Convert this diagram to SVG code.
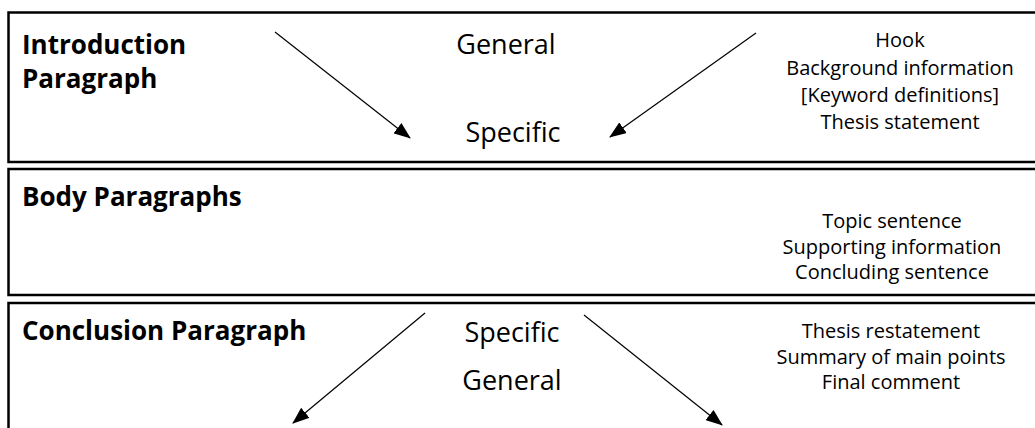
<svg xmlns="http://www.w3.org/2000/svg" width="1035" height="428" viewBox="0 0 1035 428">
<style>
.box{fill:#fff;stroke:#000;stroke-width:2.5}
.t{font-family:"Open Sans","Liberation Sans",sans-serif;fill:#000}
.h{font-size:26px;font-weight:bold}
.m{font-size:27px;text-anchor:middle}
.s{font-size:20px;text-anchor:middle}
.c{stroke:#000;stroke-width:1.2;fill:none;marker-end:url(#ah)}
</style>
<defs>
<marker id="ah" markerWidth="17" markerHeight="13" refX="16" refY="6.5" orient="auto" markerUnits="userSpaceOnUse">
<path d="M0,0 L17,6.5 L0,13 Z" fill="#000"/>
</marker>
</defs>
<rect width="1035" height="428" fill="#fff"/>
<g id="intro">
<rect class="box" x="8.5" y="12.5" width="1040" height="149.5"/>
<text class="t h" x="22" y="54">Introduction</text>
<text class="t h" x="22" y="88">Paragraph</text>
<text class="t m" x="506" y="54">General</text>
<text class="t m" x="513" y="142">Specific</text>
<text class="t s" x="900" y="47">Hook</text>
<text class="t s" x="900" y="75">Background information</text>
<text class="t s" x="900" y="102">[Keyword definitions]</text>
<text class="t s" x="900" y="129">Thesis statement</text>
</g>
<g id="body">
<rect class="box" x="8.5" y="169" width="1040" height="126"/>
<text class="t h" x="22" y="206">Body Paragraphs</text>
<text class="t s" x="892" y="228">Topic sentence</text>
<text class="t s" x="892" y="254">Supporting information</text>
<text class="t s" x="892" y="279">Concluding sentence</text>
</g>
<g id="conclusion">
<rect class="box" x="8.5" y="303" width="1040" height="140"/>
<text class="t h" x="22" y="340">Conclusion Paragraph</text>
<text class="t m" x="512" y="342">Specific</text>
<text class="t m" x="512" y="390">General</text>
<text class="t s" x="891" y="338">Thesis restatement</text>
<text class="t s" x="891" y="364">Summary of main points</text>
<text class="t s" x="891" y="389">Final comment</text>
</g>
<g id="connectors">
<line class="c" x1="275" y1="32" x2="410" y2="138"/>
<line class="c" x1="756" y1="33" x2="610" y2="137"/>
<line class="c" x1="425" y1="313" x2="293" y2="423"/>
<line class="c" x1="584" y1="315" x2="722" y2="425"/>
</g>
</svg>
